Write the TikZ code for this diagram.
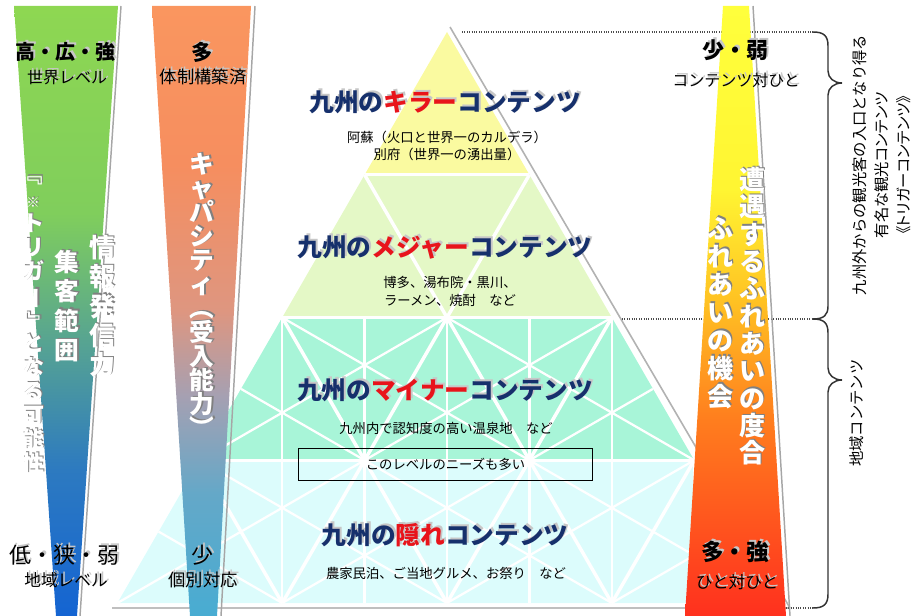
\documentclass[tikz,border=0pt]{standalone}
\usepackage{fontspec}
\setmainfont{Noto Sans CJK JP}
\usepackage{graphicx}
\usepackage{tikz}
\usetikzlibrary{shapes,arrows}

\definecolor{navytitle}{RGB}{22,48,108}
\definecolor{redtitle}{RGB}{232,20,27}
\colorlet{hlcol}{redtitle}
\definecolor{rowkiller}{RGB}{250,250,160}
\definecolor{rowmajor}{RGB}{228,248,198}
\definecolor{rowminor}{RGB}{168,245,216}
\definecolor{rowhidden}{RGB}{220,252,252}
% bar colours, bottom to top
\definecolor{gbA}{RGB}{20,100,210}
\definecolor{gbB}{RGB}{45,122,192}
\definecolor{gbC}{RGB}{85,162,148}
\definecolor{gbD}{RGB}{128,206,92}
\definecolor{gbE}{RGB}{142,215,82}
\definecolor{obA}{RGB}{72,172,210}
\definecolor{obB}{RGB}{100,168,200}
\definecolor{obC}{RGB}{165,160,178}
\definecolor{obD}{RGB}{222,150,128}
\definecolor{obE}{RGB}{246,142,95}
\definecolor{obF}{RGB}{250,150,95}
\definecolor{ybA}{RGB}{255,48,30}
\definecolor{ybB}{RGB}{255,125,30}
\definecolor{ybC}{RGB}{255,195,35}
\definecolor{ybD}{RGB}{255,245,50}
\definecolor{ybE}{RGB}{255,255,60}
\pgfdeclareverticalshading{greenblue}{100bp}{color(0bp)=(gbA); color(25bp)=(gbA); color(37bp)=(gbB); color(47bp)=(gbC); color(58bp)=(gbD); color(75bp)=(gbE); color(100bp)=(gbE)}
\pgfdeclareverticalshading{orangeblue}{100bp}{color(0bp)=(obA); color(25bp)=(obA); color(35bp)=(obB); color(43bp)=(obC); color(50bp)=(obD); color(62bp)=(obE); color(75bp)=(obF); color(100bp)=(obF)}
\pgfdeclareverticalshading{yellowred}{100bp}{color(0bp)=(ybA); color(25bp)=(ybA); color(41bp)=(ybB); color(51bp)=(ybC); color(60bp)=(ybD); color(75bp)=(ybE); color(100bp)=(ybE)}

\newcommand\vr[1]{\rotatebox[origin=c]{-90}{#1}}
\newcommand\hl[1]{{\color{hlcol}#1}}
\newcommand\tightlines{\lineskiplimit=-100pt\relax\lineskip=0pt\relax}
\newcommand\narrowkana{\addfontfeatures{RawFeature=+palt}}
% name, style, shadow style, position, text
\newcommand\shtext[5]{\node[#2,#3] (#1-sh) at #4 {#5};\node[#2] (#1) at #4 {#5};}

\tikzset{
  gridline/.style={white, line width=2.6},
  medianline/.style={white, line width=1.7},
  guideline/.style={densely dotted, black!70, line width=0.8},
  bracestyle/.style={black!80, line width=1.1},
  baredge/.style={black!35, line width=1.1},
  vcol/.style={align=center, anchor=north, inner sep=0pt, text=white, execute at begin node=\tightlines},
  title/.style={inner sep=0pt, text=navytitle, font=\bfseries\fontsize{18.5}{20}\selectfont},
  note/.style={inner sep=0pt, align=center, font=\fontsize{10}{13}\selectfont},
  level/.style={inner sep=0pt, font=\bfseries\fontsize{16}{18}\selectfont},
  sublevel/.style={inner sep=0pt, font=\fontsize{12.5}{14}\selectfont},
  darkshade/.style={text=black!50, shift={(1.4,1.4)}, execute at begin node={\colorlet{hlcol}{black!50}}},
  lightshade/.style={text=black!22, shift={(2,2)}, execute at begin node={\colorlet{hlcol}{black!22}}}
}

\begin{document}
\begin{tikzpicture}[x=0.75pt,y=0.75pt,yscale=-1,xscale=1]
\useasboundingbox (0,0) rectangle (912,616);
%Pyramid shadow edge
\draw [black!30, line width=1.2] (450,27) -- (790,608) ;
\draw [black!25, line width=1.6] (112,608) -- (790,608) ;
%Pyramid rows
\fill [rowkiller] (447,32) -- (529.4,174.75) -- (364.6,174.75) -- cycle ;
\fill [rowmajor] (364.6,174.75) -- (529.4,174.75) -- (611.8,317.5) -- (282.2,317.5) -- cycle ;
\fill [rowminor] (282.2,317.5) -- (611.8,317.5) -- (694.2,460.25) -- (199.8,460.25) -- cycle ;
\fill [rowhidden] (199.8,460.25) -- (694.2,460.25) -- (776.6,603) -- (117.4,603) -- cycle ;
%Medians of the two lower rows
\draw [medianline] (282.2,317.5) -- (282.2,603) (364.6,317.5) -- (364.6,603) (447,317.5) -- (447,603) (529.4,317.5) -- (529.4,603) (611.8,317.5) -- (611.8,603) (199.8,460.25) -- (199.8,603) (694.2,460.25) -- (694.2,603) ;
\draw [medianline] (199.8,460.25) -- (447,317.5) (364.6,460.25) -- (611.8,317.5) (364.6,460.25) -- (241,388.9) (529.4,460.25) -- (282.2,317.5) (694.2,460.25) -- (447,317.5) (529.4,460.25) -- (652.9,388.9) ;
\draw [medianline] (117.4,603) -- (364.6,460.25) (282.2,603) -- (529.4,460.25) (282.2,603) -- (158.6,531.6) (447,603) -- (694.2,460.25) (447,603) -- (199.8,460.25) (611.8,603) -- (364.6,460.25) (611.8,603) -- (735.4,531.6) (776.6,603) -- (529.4,460.25) ;
%Triangle edges
\draw [gridline] (364.6,174.75) -- (529.4,174.75) (282.2,317.5) -- (611.8,317.5) (199.8,460.25) -- (694.2,460.25) ;
\draw [gridline] (282.2,603) -- (529.4,174.75) (447,603) -- (611.8,317.5) (611.8,603) -- (694.2,460.25) ;
\draw [gridline] (611.8,603) -- (364.6,174.75) (447,603) -- (282.2,317.5) (282.2,603) -- (199.8,460.25) ;
%Dotted guides
\draw [guideline] (462,32) -- (813,32) ;
\draw [guideline] (622,319) -- (813,319) ;
\draw [guideline] (690,608) -- (813,608) ;
%Bars
\draw [baredge] (121,6) -- (80,616) ;
\shade [shading=greenblue] (14,6) -- (118,6) -- (77,616) -- (56,616) -- cycle ;
\draw [baredge] (255,6) -- (221,616) ;
\shade [shading=orangeblue] (152,6) -- (251,6) -- (217,616) -- (190,616) -- cycle ;
\draw [baredge] (753,6) -- (790,616) ;
\shade [shading=yellowred] (723,6) -- (749,6) -- (786,616) -- (685,616) -- cycle ;
%Braces
\draw [bracestyle] (813,32) .. controls (824,32) and (828,36) .. (828,46) -- (828,71) .. controls (828,78) and (834,83) .. (842,83) .. controls (834,83) and (828,88) .. (828,95) -- (828,306) .. controls (828,315) and (824,319) .. (813,319) ;
\draw [bracestyle] (813,319) .. controls (824,319) and (828,323) .. (828,333) -- (828,368) .. controls (828,375) and (834,380) .. (842,380) .. controls (834,380) and (828,385) .. (828,392) -- (828,594) .. controls (828,604) and (824,608) .. (813,608) ;
% Text Node
\shtext{topLeft}{level,font=\bfseries\fontsize{15}{17}\selectfont}{lightshade}{(65,52)}{高・広・強}
\shtext{topLeftSub}{sublevel,font=\fontsize{12}{14}\selectfont}{lightshade}{(67,78)}{世界レベル}
\shtext{botLeft}{level,font=\fontsize{16.5}{18}\selectfont}{lightshade}{(64,555)}{低・狭・弱}
\shtext{botLeftSub}{sublevel}{lightshade}{(66,580)}{地域レベル}
% Text Node
\shtext{trigger}{vcol,font=\bfseries\fontsize{16.5}{18}\selectfont}{darkshade}{(33,163)}{\vr{『}\\{\fontsize{10}{10}\selectfont ※}\\ト\\リ\\ガ\\\vr{ー}\\\vr{』}\\と\\な\\る\\可\\能\\性}
\shtext{reach}{vcol,font=\bfseries\fontsize{18.5}{22}\selectfont}{darkshade}{(67,250)}{集\\客\\範\\囲}
\shtext{voice}{vcol,font=\bfseries\fontsize{19.5}{22}\selectfont}{darkshade}{(102,235)}{情\\報\\発\\信\\力}
% Text Node
\shtext{topMid}{level}{lightshade}{(202,52)}{多}
\shtext{topMidSub}{sublevel,font=\fontsize{13}{15}\selectfont}{lightshade}{(203,77)}{体制構築済}
\shtext{capacity}{vcol,font=\bfseries\fontsize{18.5}{18}\selectfont}{darkshade}{(202,153)}{キ\\ャ\\パ\\シ\\テ\\ィ\\\vr{（}\\受\\入\\能\\力\\\vr{）}}
\shtext{botMid}{level,font=\fontsize{16.5}{18}\selectfont}{lightshade}{(202,555)}{少}
\shtext{botMidSub}{sublevel,font=\fontsize{13}{15}\selectfont}{lightshade}{(203,580)}{個別対応}
% Text Node
\shtext{killer}{title}{lightshade}{(445,102)}{九州の\hl{キラー}コンテンツ}
\node [note] (killerNote) at (447,146) {阿蘇（火口と世界一のカルデラ）\\別府（世界一の湧出量）};
\shtext{major}{title}{lightshade}{(445,247)}{九州の\hl{メジャー}コンテンツ}
\node [note, font=\fontsize{10}{13.5}\selectfont] (majorNote) at (450,291) {博多、湯布院・黒川、\\ラーメン、焼酎　など};
\shtext{minor}{title}{lightshade}{(445,390)}{九州の\hl{マイナー}コンテンツ}
\node [note] (minorNote) at (446,428) {九州内で認知度の高い温泉地　など};
\node [draw, black, line width=0.8, inner sep=0pt, minimum width=221pt, minimum height=24.5pt, font=\fontsize{10}{12}\selectfont] (needBox) at (445.5,464.5) {このレベルのニーズも多い};
\shtext{hidden}{title}{lightshade}{(445,535)}{九州の\hl{隠れ}コンテンツ}
\node [note] (hiddenNote) at (446,573) {農家民泊、ご当地グルメ、お祭り　など};
% Text Node
\shtext{topRight}{level,font=\bfseries\fontsize{16.5}{18}\selectfont}{lightshade}{(735,50)}{少・弱}
\shtext{topRightSub}{sublevel,font=\fontsize{12}{14}\selectfont}{lightshade}{(736,80)}{コンテンツ対ひと}
\shtext{encounter}{vcol,font=\bfseries\fontsize{19.5}{20.5}\selectfont}{darkshade}{(752,167)}{遭\\遇\\す\\る\\ふ\\れ\\あ\\い\\の\\度\\合}
\shtext{contact}{vcol,font=\bfseries\fontsize{19.5}{21}\selectfont}{darkshade}{(720,217)}{ふ\\れ\\あ\\い\\の\\機\\会}
\shtext{botRight}{level,font=\bfseries\fontsize{17}{19}\selectfont}{lightshade}{(735,552)}{多・強}
\shtext{botRightSub}{sublevel,font=\fontsize{12.5}{14}\selectfont}{lightshade}{(737,582)}{ひと対ひと}
% Text Node
\node [rotate=90, align=center, inner sep=0pt, font=\fontsize{11.5}{16.5}\selectfont] (triggerNote) at (882,165) {九州外からの観光客の入口となり得る\\{\narrowkana 有名な観光コンテンツ}\\{\narrowkana 《トリガーコンテンツ》}};
\node [rotate=90, inner sep=0pt, font=\fontsize{11.5}{13}\selectfont] (localNote) at (857,413) {地域コンテンツ};
\end{tikzpicture}
\end{document}
